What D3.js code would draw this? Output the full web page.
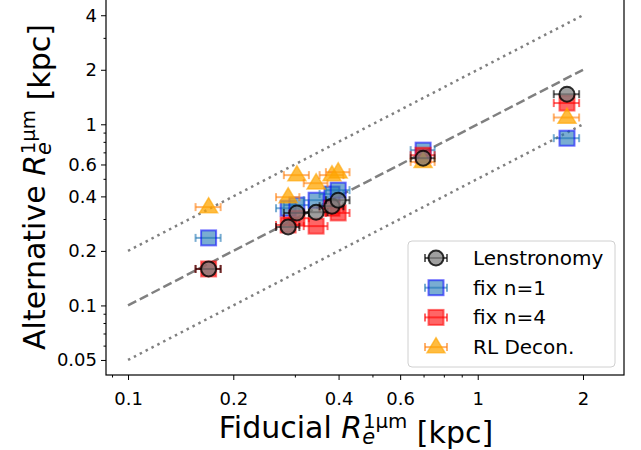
<!DOCTYPE html>
<html>
<head>
<meta charset="utf-8">
<script src="https://cdn.jsdelivr.net/npm/d3@7"></script>
<style>
  body { margin: 0; background: #fff; }
  svg { font-family: "DejaVu Sans", sans-serif; }
</style>
</head>
<body>
<div id="chart"></div>
<script>
// fiducial sizes (x) and their errors, kpc
const fiducial    = [0.170, 0.287, 0.304, 0.345, 0.383, 0.399, 0.698, 1.80];
const fiducialErr = [0.014, 0.022, 0.025, 0.027, 0.030, 0.031, 0.055, 0.15];

// alternative sizes (y), kpc
const lenstronomy = [0.159, 0.271, 0.324, 0.327, 0.353, 0.381, 0.650, 1.466];
const fixN1       = [0.236, 0.344, 0.358, 0.381, 0.412, 0.433, 0.720, 0.838];
const fixN4       = [0.159, 0.278, 0.303, 0.274, 0.344, 0.324, 0.675, 1.31];
const rlDecon     = [0.349, 0.396, 0.524, 0.473, 0.524, 0.544, 0.620, 1.09];

const xTicks = [0.1, 0.2, 0.4, 0.6, 1, 2];
const yTicks = [0.05, 0.1, 0.2, 0.4, 0.6, 1, 2, 4];
const xMinor = [0.09, 0.3, 0.5, 0.7, 0.8, 0.9];
const yMinor = [0.06, 0.07, 0.08, 0.09, 0.3, 0.5, 0.7, 0.8, 0.9, 3];

// reference lines y = ratio * x
const lineX = [0.1, 2];
const ratios = [0.5, 1, 2];

const W = 641, H = 450;
const margin = {top: -2, right: 17, bottom: 75, left: 106};

const svg = d3.select("#chart").append("svg")
  .attr("width", W).attr("height", H);

const x = d3.scaleLog().domain([0.0865, 2.62]).range([margin.left, W - margin.right]);
const y = d3.scaleLog().domain([0.0413, 4.98]).range([H - margin.bottom, margin.top]);

// reference lines
svg.append("g").selectAll("line")
  .data(ratios)
  .enter().append("line")
    .attr("x1", x(lineX[0])).attr("x2", x(lineX[1]))
    .attr("y1", d => y(d * lineX[0])).attr("y2", d => y(d * lineX[1]))
    .attr("stroke", "#808080")
    .attr("stroke-width", 2.5)
    .attr("stroke-dasharray", d => d === 1 ? "9.25,4" : "2.5,4.1");

// series styles
const series = [
  {name: "Lenstronomy", vals: lenstronomy, shape: "circle", fill: "#7f7f7f", stroke: "#000", err: "#000"},
  {name: "fix n=1", vals: fixN1, shape: "square", fill: "#1f77b4", stroke: "#0000ff", err: "#1f77b4"},
  {name: "fix n=4", vals: fixN4, shape: "square", fill: "#ff0000", stroke: "#ff0000", err: "#ff0000"},
  {name: "RL Decon.", vals: rlDecon, shape: "triangle", fill: "#ffa500", stroke: "#ffa500", err: "#ff7f0e"}
];

function drawMarker(g, s, cx, cy) {
  if (s.shape === "circle") {
    g.append("circle").attr("cx", cx).attr("cy", cy).attr("r", 7.5)
      .attr("fill", s.fill).attr("fill-opacity", 0.75)
      .attr("stroke", s.stroke).attr("stroke-opacity", 0.8).attr("stroke-width", 2);
  } else if (s.shape === "square") {
    g.append("rect").attr("x", cx - 7.5).attr("y", cy - 7.5).attr("width", 15).attr("height", 15)
      .attr("fill", s.fill).attr("fill-opacity", 0.6)
      .attr("stroke", s.stroke).attr("stroke-opacity", 0.55).attr("stroke-width", 2);
  } else {
    const r = 9.5;
    const pts = [[cx, cy - r], [cx + r * 0.95, cy + r * 0.6], [cx - r * 0.95, cy + r * 0.6]];
    g.append("path").attr("d", "M" + pts.join("L") + "Z")
      .attr("fill", s.fill).attr("fill-opacity", 0.75)
      .attr("stroke", s.stroke).attr("stroke-opacity", 0.6).attr("stroke-width", 1.5);
  }
}

function drawErr(g, s, x0, x1, cy) {
  const e = g.append("g").attr("stroke", s.err).attr("stroke-opacity", 0.6).attr("stroke-width", 2);
  e.append("line").attr("x1", x0).attr("x2", x1).attr("y1", cy).attr("y2", cy);
  e.append("line").attr("x1", x0).attr("x2", x0).attr("y1", cy - 4).attr("y2", cy + 4);
  e.append("line").attr("x1", x1).attr("x2", x1).attr("y1", cy - 4).attr("y2", cy + 4);
}

// draw order: squares, triangles, then circles on top
const drawOrder = [series[1], series[2], series[3], series[0]];
drawOrder.forEach(s => {
  const g = svg.append("g");
  fiducial.forEach((fx, i) => {
    drawErr(g, s, x(fx - fiducialErr[i]), x(fx + fiducialErr[i]), y(s.vals[i]));
    drawMarker(g, s, x(fx), y(s.vals[i]));
  });
});

// axes
const fmt = d => String(d);
const bottom = H - margin.bottom;

svg.append("g")
  .attr("transform", `translate(0,${bottom})`)
  .call(d3.axisBottom(x).tickValues(xMinor).tickSize(2.5).tickFormat(""))
  .call(g => g.select(".domain").remove());
svg.append("g")
  .attr("transform", `translate(${margin.left},0)`)
  .call(d3.axisLeft(y).tickValues(yMinor).tickSize(2.5).tickFormat(""))
  .call(g => g.select(".domain").remove());

const xAxis = svg.append("g")
  .attr("transform", `translate(0,${bottom})`)
  .call(d3.axisBottom(x).tickValues(xTicks).tickSize(5).tickPadding(12).tickFormat(fmt));
const yAxis = svg.append("g")
  .attr("transform", `translate(${margin.left},0)`)
  .call(d3.axisLeft(y).tickValues(yTicks).tickSize(5).tickPadding(4).tickFormat(fmt));

[xAxis, yAxis].forEach(a => {
  a.select(".domain").remove();
  a.selectAll("text").attr("font-size", 18).attr("font-family", "DejaVu Sans").attr("fill", "#000");
  a.selectAll("line").attr("stroke", "#000");
});
svg.selectAll(".tick line").attr("stroke-width", 1);

// frame
svg.append("rect")
  .attr("x", margin.left).attr("y", margin.top)
  .attr("width", W - margin.right - margin.left)
  .attr("height", bottom - margin.top)
  .attr("fill", "none").attr("stroke", "#000").attr("stroke-width", 1.2);

// axis labels
function mathLabel(t, prefix) {
  t.append("tspan").text(prefix);
  t.append("tspan").attr("font-style", "italic").text("R");
  t.append("tspan").attr("font-style", "italic").attr("font-size", "0.7em").attr("dy", "0.3em").text("e");
  t.append("tspan").attr("font-size", "0.66em").attr("dx", "-0.62em").attr("dy", "-0.8em").text("1μm");
  t.append("tspan").attr("dy", "0.5em").text(" [kpc]");
}

const xl = svg.append("text")
  .attr("x", 356).attr("y", 438)
  .attr("text-anchor", "middle")
  .attr("font-size", 30);
mathLabel(xl, "Fiducial ");

const yl = svg.append("text")
  .attr("transform", "translate(45,187) rotate(-90)")
  .attr("text-anchor", "middle")
  .attr("font-size", 30);
mathLabel(yl, "Alternative ");

// legend
const legend = svg.append("g");
legend.append("rect")
  .attr("x", 408).attr("y", 241).attr("width", 207).attr("height", 126)
  .attr("rx", 4)
  .attr("fill", "#fff").attr("fill-opacity", 0.8)
  .attr("stroke", "#d0d0d0").attr("stroke-width", 1);

series.forEach((s, i) => {
  const cy = 258 + i * 29.7;
  const g = legend.append("g");
  drawErr(g, s, 425, 447, cy);
  drawMarker(g, s, 436, cy);
  g.append("text")
    .attr("x", 473).attr("y", cy + 7)
    .attr("font-size", 20)
    .text(s.name);
});
</script>
</body>
</html>
